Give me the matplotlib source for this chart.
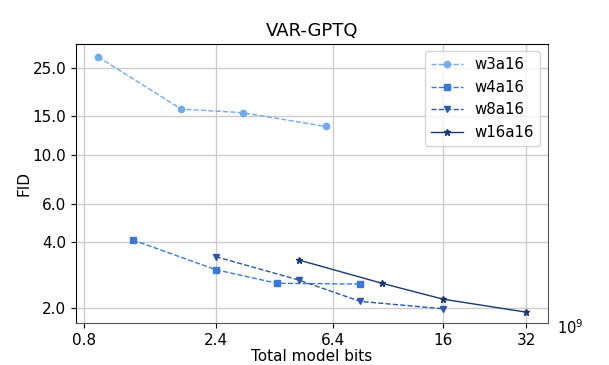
import matplotlib
matplotlib.use("Agg")
import matplotlib.pyplot as plt
from matplotlib.ticker import FixedLocator, FixedFormatter, NullLocator

# Data (x in units of 1e9 bits)
w3_bits = [0.9, 1.8, 3.0, 6.0]
w3_fid = [28.0, 16.2, 15.6, 13.5]
w4_bits = [1.2, 2.4, 4.0, 8.0]
w4_fid = [4.1, 3.0, 2.6, 2.58]
w8_bits = [2.4, 4.8, 8.0, 16.0]
w8_fid = [3.44, 2.69, 2.15, 1.99]
w16_bits = [4.8, 9.6, 16.0, 32.0]
w16_fid = [3.32, 2.6, 2.2, 1.92]

xticks = [0.8, 2.4, 6.4, 16, 32]
xticklabels = ["0.8", "2.4", "6.4", "16", "32"]
yticks = [2.0, 4.0, 6.0, 10.0, 15.0, 25.0]
yticklabels = ["2.0", "4.0", "6.0", "10.0", "15.0", "25.0"]

fig = plt.figure(figsize=(6.09, 3.65), dpi=100)
ax = fig.add_axes([0.1248, 0.1151, 0.775, 0.7644])

ax.plot(w3_bits, w3_fid, linestyle="--", marker="o", color="#70aaf0", markersize=4.5, linewidth=1, label="w3a16")
ax.plot(w4_bits, w4_fid, linestyle="--", marker="s", color="#3a7ad4", markersize=4.5, linewidth=1, label="w4a16")
ax.plot(w8_bits, w8_fid, linestyle="--", marker="v", color="#2a58ac", markersize=4.5, linewidth=1, label="w8a16")
ax.plot(w16_bits, w16_fid, linestyle="-", marker="*", color="#1b3676", markersize=4.5, linewidth=1, label="w16a16")

ax.set_xscale("log")
ax.set_yscale("log")
ax.set_xlim(0.748, 38.3)
ax.set_ylim(1.714, 32.1)

ax.xaxis.set_major_locator(FixedLocator(xticks))
ax.xaxis.set_major_formatter(FixedFormatter(xticklabels))
ax.xaxis.set_minor_locator(NullLocator())
ax.yaxis.set_major_locator(FixedLocator(yticks))
ax.yaxis.set_major_formatter(FixedFormatter(yticklabels))
ax.yaxis.set_minor_locator(NullLocator())

ax.tick_params(labelsize=11)
ax.grid(True, color="#cccccc", linewidth=1)
ax.set_axisbelow(True)
for side in ("right", "bottom"):
    ax.spines[side].set_color("#555555")

ax.set_title("VAR-GPTQ", fontsize=13)
ax.set_xlabel("Total model bits", fontsize=11, labelpad=1)
ax.set_ylabel("FID", fontsize=11, labelpad=0.5)
ax.text(1.02, -0.018, r"$10^{9}$", transform=ax.transAxes, fontsize=10.5, ha="left", va="center")

ax.legend(loc="upper right", fontsize=10.8, bbox_to_anchor=(0.999, 1.0),
          handlelength=2.1, labelspacing=0.5)

fig.savefig("out.png", dpi=100)
